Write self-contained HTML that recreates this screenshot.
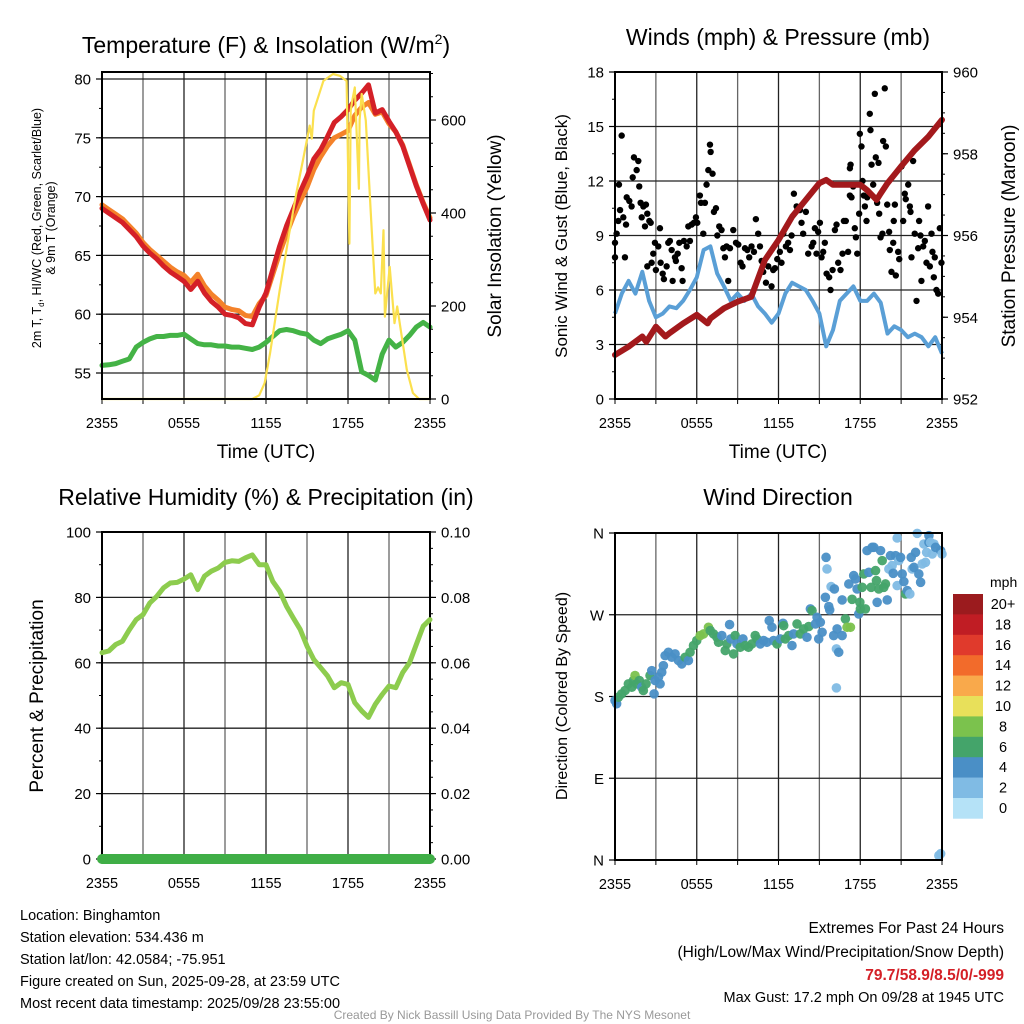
<!DOCTYPE html>
<html><head><meta charset="utf-8"><style>
html,body{margin:0;padding:0;background:#fff;}
svg{display:block;font-family:"Liberation Sans",sans-serif;}
</style></head><body>
<svg id="fig" xmlns="http://www.w3.org/2000/svg" width="1024" height="1024" viewBox="0 0 1024 1024">
<rect x="0" y="0" width="1024" height="1024" fill="#fff"/>
<g id="p1"></g>
<g id="p2"></g>
<g id="p3"></g>
<g id="p4"></g>
<g id="txt">
<text x="266" y="53" font-size="23" text-anchor="middle">Temperature (F) &amp; Insolation (W/m<tspan font-size="14" dy="-9">2</tspan><tspan dy="9">)</tspan></text>
<text x="778" y="45" font-size="23" text-anchor="middle">Winds (mph) &amp; Pressure (mb)</text>
<text x="266" y="505" font-size="23" text-anchor="middle">Relative Humidity (%) &amp; Precipitation (in)</text>
<text x="778" y="505" font-size="23" text-anchor="middle">Wind Direction</text>
<text x="266" y="458" font-size="19" text-anchor="middle">Time (UTC)</text>
<text x="778" y="458" font-size="19" text-anchor="middle">Time (UTC)</text>
<text transform="translate(41,228) rotate(-90)" font-size="12.5" text-anchor="middle">2m T, T<tspan font-size="8" dy="3">d</tspan><tspan dy="-3">, HI/WC (Red, Green, Scarlet/Blue)</tspan></text>
<text transform="translate(55,228) rotate(-90)" font-size="12.5" text-anchor="middle">&amp; 9m T (Orange)</text>
<text transform="translate(501,236) rotate(-90)" font-size="19" text-anchor="middle">Solar Insolation (Yellow)</text>
<text transform="translate(567,236) rotate(-90)" font-size="17" text-anchor="middle">Sonic Wind &amp; Gust (Blue, Black)</text>
<text transform="translate(1015,236) rotate(-90)" font-size="19" text-anchor="middle">Station Pressure (Maroon)</text>
<text transform="translate(43,696) rotate(-90)" font-size="19" text-anchor="middle">Percent &amp; Precipitation</text>
<text transform="translate(567,696) rotate(-90)" font-size="16" text-anchor="middle">Direction (Colored By Speed)</text>
<g font-size="14.5">
<text x="20" y="920">Location: Binghamton</text>
<text x="20" y="942">Station elevation: 534.436 m</text>
<text x="20" y="964">Station lat/lon: 42.0584; -75.951</text>
<text x="20" y="986">Figure created on Sun, 2025-09-28, at 23:59 UTC</text>
<text x="20" y="1008">Most recent data timestamp: 2025/09/28 23:55:00</text>
</g>
<g font-size="15.5" text-anchor="end">
<text x="1004" y="933">Extremes For Past 24 Hours</text>
<text x="1004" y="957">(High/Low/Max Wind/Precipitation/Snow Depth)</text>
<text x="1004" y="980" fill="#d42027" font-weight="bold">79.7/58.9/8.5/0/-999</text>
<text x="1004" y="1002" font-size="14.5">Max Gust: 17.2 mph On 09/28 at 1945 UTC</text>
</g>
<text x="512" y="1019" font-size="12" fill="#999" text-anchor="middle">Created By Nick Bassill Using Data Provided By The NYS Mesonet</text>
</g>
</svg>
<script>
// ---- data ----
const tempHours = [0,0.5,1,1.5,2,2.5,3,3.5,4,4.5,5,5.5,6,6.5,7,7.5,8,8.5,9,9.5,10,10.5,11,11.5,12,12.5,13,13.5,14,14.5,15,15.5,16,16.5,17,17.5,18,18.5,19,19.5,20,20.5,21,21.5,22,22.5,23,23.5,24];
const temp2m = [69.0,68.6,68.2,67.8,67.2,66.6,65.8,65.2,64.7,64.1,63.6,63.2,62.8,62.1,62.8,61.8,61.1,60.6,60.0,59.9,59.7,59.2,59.1,60.6,61.8,63.8,65.8,67.5,68.9,70.4,71.7,73.2,74.0,75.1,76.3,76.8,77.4,78.2,78.8,79.5,77.1,77.4,76.4,75.5,74.3,72.6,70.9,69.4,68.0];
const temp9m = [69.3,68.9,68.5,68.1,67.5,66.9,66.1,65.5,65.0,64.5,64.0,63.6,63.3,62.7,63.4,62.4,61.7,61.2,60.6,60.4,60.3,59.9,59.8,60.9,61.6,63.4,65.2,66.8,68.3,69.6,70.8,72.3,73.4,74.3,75.0,75.3,75.6,76.9,77.6,78.0,77.0,77.2,76.2,75.5,74.4,72.7,71.0,69.5,68.2];
const dewpoint = [55.65,55.7,55.8,56.0,56.2,57.2,57.6,57.9,58.1,58.1,58.2,58.2,58.3,57.9,57.5,57.4,57.4,57.3,57.3,57.2,57.2,57.1,57.0,57.2,57.6,58.1,58.6,58.7,58.6,58.4,58.3,57.8,57.5,57.9,58.1,58.3,58.6,57.8,55.1,54.8,54.4,56.6,57.8,57.2,57.6,58.2,58.9,59.3,58.9];
const solarHours = [0,11,11.5,11.9,12.3,13,13.7,14.2,14.7,15.2,15.35,15.5,16.2,16.9,17.4,17.9,18.1,18.2,18.3,18.5,18.8,18.85,19,19.3,19.7,20.0,20.2,20.4,20.6,20.7,21.05,21.4,21.6,22.3,22.75,23.2,24];
const solarValues = [0,0,8,34,99,234,356,440,513,588,560,620,684,699,695,684,334,620,640,670,452,600,656,599,384,227,240,227,363,177,284,163,199,63,13,0,0];
const tempTicks = [55,60,65,70,75,80];
const solarTicks = [0,200,400,600];
const timeTickLabels = ["2355","0555","1155","1755","2355"];

const windHours = tempHours;
const windSpeed = [4.7,5.8,6.5,5.8,7.0,5.4,4.5,4.7,5.1,5.0,5.4,6.0,6.7,8.2,8.4,6.9,6.2,5.4,5.8,5.4,5.8,5.1,4.7,4.2,4.7,5.8,6.4,6.2,6.0,5.4,4.7,2.9,3.8,5.4,5.8,6.2,5.4,5.4,5.8,5.3,3.6,4.0,3.8,3.4,3.6,3.4,2.9,3.4,2.5];
const pressHours = [0,1,2,2.3,3,3.7,4,5,6,6.8,7,8,9,10,11,12,13,14,15,15.5,16,17,18,18.5,19.2,19.5,20,21,22,23,24];
const pressure = [953.08,953.28,953.53,953.4,953.77,953.53,953.61,953.85,954.06,953.85,953.97,954.22,954.38,954.5,955.4,955.89,956.46,956.87,957.28,957.36,957.24,957.24,957.24,957.11,956.87,957.03,957.28,957.69,958.09,958.42,958.83];
const gustHours = [0,0,0.12,0.24,0.29,0.49,0.61,0.73,0.81,0.37,0.86,1.05,1.22,1.3,1.39,1.59,1.71,1.78,1.88,1.96,2.08,2.2,2.27,2.37,2.52,2.62,2.37,2.69,2.81,2.93,3.0,3.18,3.3,3.35,3.5,3.59,3.79,3.91,4.03,4.16,4.23,4.4,4.47,4.6,4.72,4.89,4.96,5.06,5.26,5.38,5.5,5.62,5.79,5.94,6.04,6.23,6.31,6.48,6.6,6.72,6.85,6.97,7.02,7.16,7.26,7.41,7.51,7.65,7.82,7.95,8.07,8.19,8.31,8.44,8.68,8.88,9.05,9.22,9.36,9.54,9.71,9.85,10.02,10.2,10.34,10.51,10.64,10.76,10.88,11.08,11.25,11.49,11.61,11.74,11.91,12.1,12.22,12.35,12.54,12.71,12.84,12.96,13.13,13.33,13.57,13.69,13.81,14.01,14.18,14.43,14.55,14.67,14.79,14.91,15.04,15.16,15.28,15.4,15.53,15.72,15.82,15.97,16.14,16.26,16.38,16.55,16.7,16.8,16.94,17.11,17.24,17.36,17.24,17.29,17.48,17.6,17.68,17.78,17.92,17.97,18.09,18.17,18.26,18.34,18.46,18.51,18.7,18.75,18.83,18.95,19.07,19.14,19.24,19.34,19.39,19.49,19.63,19.8,19.68,19.88,19.98,20.12,20.17,20.29,20.42,20.46,20.54,20.61,20.78,20.86,21.03,21.15,21.27,21.34,21.52,21.64,21.69,21.76,21.88,22.0,22.13,22.25,22.32,22.42,22.49,22.62,22.74,22.86,22.98,23.11,23.23,23.3,23.4,23.47,23.59,23.72,23.84,23.96];
const gustSpeed = [8.6,7.8,9.1,9.8,11.8,14.5,10.0,7.8,9.6,10.4,11.1,10.9,10.6,12.2,13.3,12.6,13.1,11.7,10.8,10.0,10.6,9.5,10.7,10.2,9.8,9.7,7.3,7.5,8.0,8.6,7.1,8.4,9.4,7.5,6.9,6.6,7.3,8.6,8.7,8.2,6.5,7.8,7.6,8.0,8.6,7.2,6.5,8.7,8.4,9.5,8.7,9.6,9.7,10.0,9.7,11.2,10.8,9.1,10.8,11.8,12.6,14.0,13.6,12.4,10.3,10.5,9.0,9.5,9.3,8.3,7.8,8.4,6.5,8.3,9.3,8.6,8.5,7.5,7.3,8.3,8.2,7.8,8.4,8.1,9.9,9.1,8.4,7.6,7.0,6.4,7.3,6.2,7.1,7.2,7.7,8.1,7.5,9.1,8.4,8.6,8.2,9.0,11.3,10.6,10.4,9.7,9.1,10.3,8.0,8.4,8.6,9.4,8.0,9.2,9.7,7.8,8.1,8.6,6.9,6.7,6.0,7.1,9.3,9.6,7.5,7.1,8.0,9.8,9.8,8.1,11.2,11.1,12.7,12.9,11.7,9.4,8.9,8.0,10.2,14.6,13.9,12.0,11.2,10.6,9.8,11.1,15.7,14.8,12.9,11.8,16.8,13.3,10.8,13.0,10.2,8.9,9.1,17.1,14.2,13.9,10.7,9.2,8.2,7.0,8.6,9.8,10.7,6.8,8.1,7.7,12.8,9.8,11.3,11.0,11.8,10.6,10.3,7.8,13.1,9.1,5.4,8.3,9.8,9.0,6.5,8.4,8.7,7.5,10.6,7.3,9.1,8.1,6.7,7.8,6.0,5.8,9.4,7.5];
const windTicks = [0,3,6,9,12,15,18];
const pressTicks = [952,954,956,958,960];

const rhHours = tempHours;
const rh = [63.1,63.6,65.6,66.6,70.1,73.2,74.7,78.3,80.3,82.9,84.4,84.6,85.6,86.9,82.4,86.5,88.0,89.0,90.7,91.2,91.0,92.1,93.0,90.0,90.0,84.9,81.9,77.3,73.7,70.2,65.1,61.0,58.5,56.0,52.4,53.9,53.4,47.8,45.3,43.3,47.3,50.3,52.9,52.4,57.0,60.0,65.6,71.2,73.2];
const precipHours = [0,24];
const precip = [0,0];
const rhTicks = [0,20,40,60,80,100];
const precipTicks = ["0.00","0.02","0.04","0.06","0.08","0.10"];

const dirHours = [0,0.12,0.25,0.49,0.74,0.98,1.23,1.35,1.47,1.59,1.79,1.96,2.08,2.28,2.57,2.7,2.87,2.94,3.19,3.31,3.43,3.55,3.68,3.92,4.17,4.41,4.66,4.9,5.15,5.39,5.51,5.76,6.0,6.25,6.5,6.86,6.99,7.23,7.48,7.6,7.84,8.09,8.21,8.41,8.5,8.7,8.82,8.95,9.19,9.39,9.56,9.8,10.05,10.29,10.42,10.66,10.91,11.15,11.32,11.52,11.64,11.89,12.13,12.33,12.38,12.5,12.75,12.99,13.11,13.36,13.6,13.85,14.09,14.22,14.34,14.46,14.71,14.83,14.95,15.07,15.2,15.44,15.49,15.56,15.69,15.76,15.86,16.05,16.1,16.25,16.3,16.42,16.25,16.67,16.67,16.91,17.03,17.16,17.28,17.4,17.52,17.65,17.77,17.89,17.97,18.01,18.14,18.26,18.38,18.5,18.63,18.8,18.87,19.0,19.12,19.19,19.24,19.36,19.49,19.61,19.73,19.85,19.98,20.1,20.22,20.34,20.42,20.59,20.71,20.71,20.83,20.96,21.08,21.2,21.32,21.45,21.64,21.74,21.81,21.94,22.06,22.18,22.3,22.43,22.55,22.67,22.79,22.87,23.04,23.04,23.16,23.28,23.41,23.53,23.9,24.0,23.77,23.9];
const dirDeg = [175.6,172,179.2,182.9,186.6,193.9,190.2,197.6,203.1,193.9,197.6,190.2,186.6,193.9,203.1,208.5,182.9,197.6,201.3,193.9,206.7,214,225,228.7,223.2,226.9,219.6,215.9,223.2,219.6,228.7,236.1,241.6,247.1,248.9,256.2,252.6,248.9,245.2,239.7,247.1,230.6,237.9,259.2,243.4,226.9,247.1,237.9,234.2,243.4,236.1,234.2,237.9,247.1,243.4,237.9,241.6,239.7,263.6,256.2,241.6,237.9,243.4,260.6,258,243.4,247.1,236.1,248.9,259.9,248.9,254.4,245.2,257,276.4,274.6,259.9,267.2,243.4,261.7,250.7,289.2,333.2,320.4,279,275.3,301,247.1,298.4,232.4,254.4,228.7,189.5,247.1,286.3,265.4,256.2,303.9,256.2,287,313.1,309.4,298.4,270.9,283.7,276.4,300.2,314.9,276.4,340.6,316.7,300.2,344.2,344.2,318.6,307.6,283.7,298.4,340.6,329.6,300.2,303.9,286.3,320.4,335.1,324.1,315.6,335.1,354.5,302.1,329.6,333.2,314.9,306.5,292.9,296.6,292.9,333.2,320.4,322.2,338.7,359.6,314.9,305.7,325.9,347.9,327.7,338.7,357.1,349.7,349.7,336.9,347.9,344.2,340.6,336.9,5,6.9];
const dirSpeed = [5,5,7,7,7,7,7,7,9,7,7,5,7,7,7,5,5,5,5,5,5,5,5,5,5,5,5,5,7,5,7,7,7,9,9,9,7,7,7,7,5,7,7,5,5,7,7,5,7,5,7,7,7,7,7,5,5,5,5,5,5,7,5,5,7,7,7,5,5,7,7,7,5,7,5,7,5,5,5,5,5,5,5,3,5,5,3,5,5,3,5,5,3,5,5,7,9,5,9,7,5,5,5,5,7,7,7,7,7,5,5,7,5,5,7,7,5,7,5,7,7,7,5,3,5,3,5,5,3,3,3,5,5,5,7,5,3,5,3,5,5,3,5,5,3,3,3,3,5,5,3,3,3,5,5,3,3,3];
const dirTickLabels = ["N","E","S","W","N"];
const speedBins = ["0","2","4","6","8","10","12","14","16","18","20+"];
const speedColors = ["#b5e2f7","#80bbe4","#4a8fc6","#44a46a","#7bc24d","#e8e05a","#f9a94b","#f26b2b","#e03a2c","#c01d24","#9b1b1e"];

// ---- helpers ----
const NS = "http://www.w3.org/2000/svg";
function mk(parent, tag, attrs){
  const e = document.createElementNS(NS, tag);
  for (const k in attrs) e.setAttribute(k, attrs[k]);
  parent.appendChild(e);
  return e;
}
function lin(d0,d1,r0,r1){ return v => r0 + (v-d0)*(r1-r0)/(d1-d0); }
function pathFrom(xs, ys, fx, fy){
  return xs.map((h,i)=>(i?"L":"M")+fx(h).toFixed(1)+","+fy(ys[i]).toFixed(1)).join("");
}
function frameAndGrid(g, L, R, T, B, hy, name){
  const x = lin(0,24,L,R);
  for (let h=0; h<=24; h+=3){
    const ln = mk(g,"line",{x1:x(h),x2:x(h),y1:T,y2:B,stroke:(h%6===0)?"#222":"#666","stroke-width":1.3});
    
    
    const tk = mk(g,"line",{x1:x(h),x2:x(h),y1:B,y2:B+5,stroke:"#000","stroke-width":1});
    
    
  }
  hy.forEach(y=>{
    const ln = mk(g,"line",{x1:L,x2:R,y1:y,y2:y,stroke:"#222","stroke-width":1.3});
    
    
  });
  timeTickLabels.forEach((lab,i)=>{
    const t = mk(g,"text",{x:x(i*6),y:B+29,"font-size":14.5,"text-anchor":"middle"});
    t.textContent = lab;
    
    
  });
  return x;
}
function border(g,L,R,T,B,name){
  const r = mk(g,"rect",{x:L,y:T,width:R-L,height:B-T,fill:"none",stroke:"#000","stroke-width":2});
  
  
}
function yAxis(g, ticks, labels, f, side, X, name, minorStep, dmin, dmax){
  const dir = side==="left" ? -1 : 1;
  if (minorStep){
    for (let v=Math.ceil(dmin/minorStep)*minorStep; v<=dmax+1e-9; v+=minorStep){
      const m = mk(g,"line",{x1:X,x2:X+dir*3,y1:f(v),y2:f(v),stroke:"#000","stroke-width":1});
      
      
    }
  }
  ticks.forEach((v,i)=>{
    const tk = mk(g,"line",{x1:X,x2:X+dir*6,y1:f(v),y2:f(v),stroke:"#000","stroke-width":1.2});
    
    
    const t = mk(g,"text",{x:X+dir*11,y:f(v)+5.5,"font-size":15,"text-anchor":side==="left"?"end":"start"});
    t.textContent = labels[i];
    
    
  });
}

// ---- panel 1 ----
(function(){
  const g = document.getElementById("p1");
  const L=102,R=430,T=72,B=399;
  const yT = lin(55,80,373,79);
  const yS = lin(0,600,399,120);
  const x = frameAndGrid(g,L,R,T,B,tempTicks.map(yT),"temperature");
  yAxis(g,tempTicks,tempTicks.map(String),yT,"left",L,"temperature-y",2.5,52.8,80.6);
  yAxis(g,solarTicks,solarTicks.map(String),yS,"right",R,"insolation-y",50,0,700);
  const pd = mk(g,"path",{d:pathFrom(tempHours,dewpoint,x,yT),fill:"none",stroke:"#44b346","stroke-width":5,"stroke-linejoin":"round","stroke-linecap":"round"});
  
  
  const po = mk(g,"path",{d:pathFrom(tempHours,temp9m,x,yT),fill:"none",stroke:"#f4822a","stroke-width":5,"stroke-linejoin":"round","stroke-linecap":"round"});
  
  
  const pr = mk(g,"path",{d:pathFrom(tempHours,temp2m,x,yT),fill:"none",stroke:"#d42027","stroke-width":5,"stroke-linejoin":"round","stroke-linecap":"round"});
  
  
  const py = mk(g,"path",{d:pathFrom(solarHours,solarValues,x,yS),fill:"none",stroke:"#fbe04e","stroke-width":2.2,"stroke-linejoin":"round"});
  
  
  border(g,L,R,T,B,"temperature");
})();

// ---- panel 2 ----
(function(){
  const g = document.getElementById("p2");
  const L=615,R=942,T=72,B=399;
  const yW = lin(0,18,399,72);
  const yP = lin(952,960,399,72);
  const x = frameAndGrid(g,L,R,T,B,windTicks.map(yW),"winds");
  yAxis(g,windTicks,windTicks.map(String),yW,"left",L,"wind-y",1.5,0,18);
  yAxis(g,pressTicks,pressTicks.map(String),yP,"right",R,"pressure-y",0.5,952,960);
  const pw = mk(g,"path",{d:pathFrom(windHours,windSpeed,x,yW),fill:"none",stroke:"#5a9fd6","stroke-width":4,"stroke-linejoin":"round"});
  
  
  gustHours.forEach((h,i)=>{
    const c = mk(g,"circle",{cx:x(h),cy:yW(gustSpeed[i]),r:3.2,fill:"#000"});
    
    
  });
  const pp = mk(g,"path",{d:pathFrom(pressHours,pressure,x,yP),fill:"none",stroke:"#a3191c","stroke-width":6,"stroke-linejoin":"round","stroke-linecap":"round"});
  
  
  border(g,L,R,T,B,"winds");
})();

// ---- panel 3 ----
(function(){
  const g = document.getElementById("p3");
  const L=102,R=430,T=532,B=859;
  const yR = lin(0,100,859,532);
  const yPr = lin(0,0.1,859,532);
  const x = frameAndGrid(g,L,R,T,B,rhTicks.map(yR),"humidity");
  yAxis(g,rhTicks,rhTicks.map(String),yR,"left",L,"humidity-y",10,0,100);
  yAxis(g,precipTicks.map(Number),precipTicks,yPr,"right",R,"precip-y",0.005,0,0.1);
  border(g,L,R,T,B,"humidity");
  const ph = mk(g,"path",{d:pathFrom(rhHours,rh,x,yR),fill:"none",stroke:"#8dcc4e","stroke-width":5,"stroke-linejoin":"round","stroke-linecap":"round"});
  
  
  const pq = mk(g,"path",{d:pathFrom(precipHours,precip,x,yPr),fill:"none",stroke:"#3fae46","stroke-width":10,"stroke-linecap":"round"});
  
  
})();

// ---- panel 4 ----
(function(){
  const g = document.getElementById("p4");
  const L=615,R=942,T=533,B=860;
  const yD = lin(0,360,860,533);
  const dTicks = [0,90,180,270,360];
  const x = frameAndGrid(g,L,R,T,B,dTicks.map(yD),"direction");
  yAxis(g,dTicks,dirTickLabels,yD,"left",L,"direction-y",0,0,0);
  function colorFor(s){ const i = Math.min(10, Math.max(0, Math.floor((s||0)/2))); return speedColors[i]; }
  dirHours.forEach((h,i)=>{
    const c = mk(g,"circle",{cx:x(h),cy:yD(dirDeg[i]),r:4.8,fill:colorFor(dirSpeed[i]),"fill-opacity":0.95});
    
    
  });
  const cb = mk(g,"g",{});
  
  
  const t0 = mk(cb,"text",{x:990,y:587,"font-size":14});
  t0.textContent = "mph";
  
  
  const top=594, bh=20.4;
  for (let k=0;k<speedBins.length;k++){
    const idx = speedBins.length-1-k;
    const r = mk(cb,"rect",{x:953,y:top+k*bh,width:30,height:bh+0.3,fill:speedColors[idx]});
    
    
    const t = mk(cb,"text",{x:1003,y:top+k*bh+15,"font-size":14.5,"text-anchor":"middle"});
    t.textContent = speedBins[idx];
    
    
  }
  border(g,L,R,T,B,"direction");
})();
</script>
</body></html>
